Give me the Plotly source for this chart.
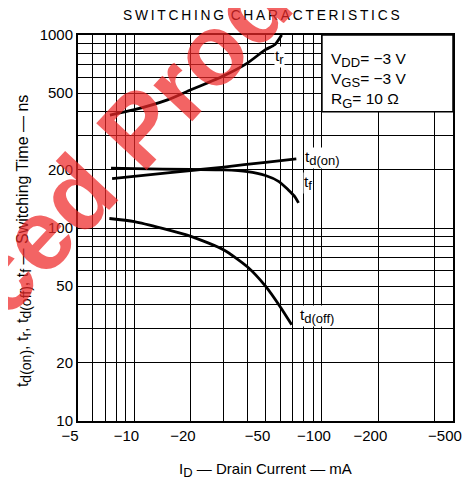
import math
import plotly.graph_objects as go

# ---- data ----
id_tr = [7.4, 10, 15, 20, 30, 40, 50, 56, 61]
t_r = [385, 410, 461, 520, 615, 715, 840, 890, 1000]

id_tdon = [7.6, 15, 30, 50, 73]
t_don = [180, 193, 207, 219, 228]

id_tf = [7.5, 10, 20, 30, 40, 50, 59, 66, 71, 75]
t_f = [204, 203, 201, 200, 196, 187, 174, 158, 147, 135]

id_tdoff = [7.35, 10, 20, 30, 40, 50, 60, 69]
t_doff = [112, 108, 90.5, 77, 63, 50, 39, 31.5]

x_grid = [5, 6, 7, 8, 9, 10, 20, 30, 40, 50, 60, 70, 80, 90, 100, 200, 400, 500]
x_labels = {5: "−5", 10: "−10", 20: "−20", 50: "−50", 100: "−100", 200: "−200", 500: "−500"}
y_grid = [10, 20, 30, 40, 50, 60, 70, 80, 90, 100, 200, 300, 400, 500, 600, 700, 800, 900, 1000]
y_labels = {10: "10", 20: "20", 50: "50", 100: "100", 200: "200", 500: "500", 1000: "1000"}

FONT = "Liberation Sans, Arial, sans-serif"
PW, PH = 384, 387  # plot area size in px


def sub(s, size=13):
    return "<sub><span style='font-size:%dpx'>" % size + s + "</span></sub>"


fig = go.Figure()
for xs, ys in [(id_tr, t_r), (id_tdon, t_don), (id_tf, t_f), (id_tdoff, t_doff)]:
    fig.add_trace(go.Scatter(x=xs, y=ys, mode="lines",
                             line=dict(color="black", width=2.8, shape="spline", smoothing=0.6),
                             showlegend=False, hoverinfo="skip"))

# page body has an 8px default margin -> figure is 8px smaller than the window
fig.update_layout(
    width=466, height=479,
    margin=dict(l=70, r=12, t=27, b=65),
    paper_bgcolor="white", plot_bgcolor="white",
    font=dict(family=FONT, color="black", size=15),
    showlegend=False,
)
fig.update_xaxes(
    type="log", range=[math.log10(5), math.log10(500)],
    tickvals=x_grid, ticktext=[x_labels.get(v, "") for v in x_grid],
    showgrid=True, gridcolor="black", gridwidth=1.3,
    showline=True, linecolor="black", linewidth=2, mirror=True,
    ticks="", ticklabelshift=-8, tickfont=dict(size=15),
    title=dict(text="I" + sub("D") + " — Drain Current — mA", font=dict(size=15), standoff=20),
    zeroline=False,
)
fig.update_yaxes(
    type="log", range=[1, 3],
    tickvals=y_grid, ticktext=[y_labels.get(v, "") for v in y_grid],
    showgrid=True, gridcolor="black", gridwidth=1.3,
    showline=True, linecolor="black", linewidth=2, mirror=True,
    ticks="", ticklabelstandoff=0, tickfont=dict(size=15),
    zeroline=False,
)

# y-axis title (annotation so it can sit slightly below the plot centre, as in the original)
fig.add_annotation(xref="paper", yref="paper", x=(22 - 78) / PW, y=(421.7 - 241) / PH,
                   text="t" + sub("d(on)", 14) + ", t" + sub("r", 14) + ", t" + sub("d(off)", 14) + ", t" + sub("f", 14)
                   + " — Switching Time — ns",
                   textangle=-90, showarrow=False, font=dict(size=16), xanchor="center", yanchor="middle")

# condition box
fig.add_shape(type="rect", xref="x", yref="y", x0=100, x1=500, y0=400, y1=1000,
              fillcolor="white", line=dict(color="black", width=1.5), layer="above")
fig.add_annotation(xref="x", yref="y", x=math.log10(109), y=math.log10(579), xanchor="left", yanchor="middle",
                   align="left", showarrow=False, font=dict(size=15.5),
                   text="V" + sub("DD") + "= −3 V<br>V" + sub("GS") + "= −3 V<br>R" + sub("G") + "= 10 Ω")

# curve labels
labels = [("t" + sub("r"), 59.5, 770), ("t" + sub("d(on)"), 101, 231),
          ("t" + sub("f"), 84.5, 171), ("t" + sub("d(off)"), 94, 35)]
for txt, lx, ly in labels:
    fig.add_annotation(xref="x", yref="y", x=math.log10(lx), y=math.log10(ly), text=txt,
                       showarrow=False, bgcolor="white", font=dict(size=15.5), borderpad=0)

# title
sp = "\u2009"
title = (sp.join("SWITCHING") + " " + sp + sp.join("CHARACTERISTICS"))
fig.add_annotation(xref="paper", yref="paper", x=(266 - 78) / PW, y=1 + 20 / PH,
                   text=title, showarrow=False, font=dict(size=13.8), xanchor="center", yanchor="middle")

# watermark (offsets measured from plot's left edge / bottom edge)
fig.add_annotation(xref="paper", yref="paper", x=(84 - 78) / PW, y=(421.7 - 186) / PH,
                   text="Replaced Product", showarrow=False, textangle=-47,
                   font=dict(size=100, color="rgba(238,40,40,0.72)", family=FONT, weight="bold"),
                   xanchor="center", yanchor="middle")

fig.write_html("out.html")
